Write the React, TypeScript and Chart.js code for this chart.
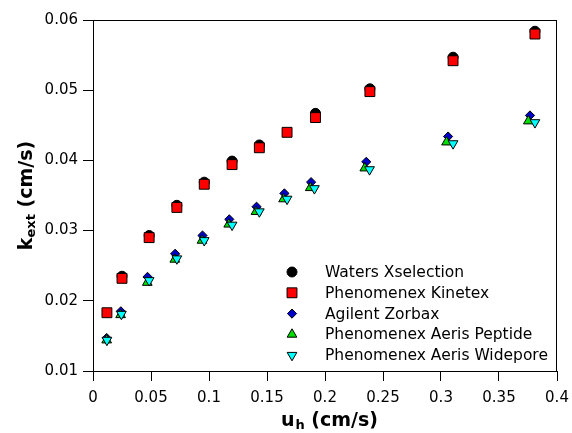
import React, { useEffect, useRef } from 'react';
import { Chart, registerables } from 'chart.js';

Chart.register(...registerables);

// ---- Data ----
const watersX = [0.025, 0.0484, 0.0723, 0.0959, 0.1199, 0.1434, 0.1918, 0.2387, 0.3104, 0.381];
const watersY = [0.0235, 0.0293, 0.0336, 0.0369, 0.0399, 0.0422, 0.0467, 0.0502, 0.0547, 0.0584];

const kinetexX = [0.012, 0.025, 0.0484, 0.0723, 0.0959, 0.1199, 0.1434, 0.1673, 0.1918, 0.2387, 0.3104, 0.381];
const kinetexY = [0.0183, 0.0232, 0.029, 0.0333, 0.0366, 0.0394, 0.0418, 0.044, 0.0461, 0.0498, 0.0542, 0.058];

const zorbaxX = [0.0118, 0.024, 0.047, 0.0708, 0.0944, 0.1175, 0.141, 0.165, 0.188, 0.2356, 0.3061, 0.3767];
const zorbaxY = [0.0147, 0.0185, 0.0234, 0.0267, 0.0293, 0.0316, 0.0334, 0.0353, 0.0369, 0.0398, 0.0434, 0.0464];

const peptideX = [0.0118, 0.0238, 0.0468, 0.0705, 0.094, 0.117, 0.1405, 0.1643, 0.1873, 0.2343, 0.3048, 0.3753];
const peptideY = [0.0144, 0.018, 0.0226, 0.0259, 0.0286, 0.0309, 0.0327, 0.0345, 0.0361, 0.0389, 0.0426, 0.0456];

const wideporeX = [0.012, 0.0245, 0.0484, 0.0723, 0.0959, 0.1199, 0.1434, 0.1673, 0.1909, 0.2384, 0.3104, 0.381];
const wideporeY = [0.0144, 0.0181, 0.0229, 0.026, 0.0286, 0.0308, 0.0327, 0.0345, 0.036, 0.0387, 0.0424, 0.0454];

const seriesNames = [
  'Waters Xselection',
  'Phenomenex Kinetex',
  'Agilent Zorbax',
  'Phenomenex Aeris Peptide',
  'Phenomenex Aeris Widepore',
];

const xTickValues = [0, 0.05, 0.1, 0.15, 0.2, 0.25, 0.3, 0.35, 0.4];
const xTickLabels = ['0', '0.05', '0.1', '0.15', '0.2', '0.25', '0.3', '0.35', '0.4'];
const yTickValues = [0.01, 0.02, 0.03, 0.04, 0.05, 0.06];
const yTickLabels = ['0.01', '0.02', '0.03', '0.04', '0.05', '0.06'];

const xTitleMain = 'u';
const xTitleSub = 'h';
const xTitleRest = ' (cm/s)';
const yTitleMain = 'k';
const yTitleSub = 'ext';
const yTitleRest = ' (cm/s)';

// ---- Styles ----
const FONT = '"DejaVu Sans", Verdana, sans-serif';
const markerStyles = [
  { style: 'circle', color: '#000000', radius: 5, rotation: 0 },
  { style: 'rect', color: '#ff0000', radius: 7, rotation: 0 },
  { style: 'rectRot', color: '#0000cc', radius: 4.6, rotation: 0 },
  { style: 'triangle', color: '#00dd00', radius: 5.6, rotation: 0 },
  { style: 'triangle', color: '#00ffff', radius: 5.6, rotation: 180 },
];

function toPoints(xs: number[], ys: number[]) {
  return xs.map((x, i) => ({ x, y: ys[i] }));
}

function drawMarker(ctx: CanvasRenderingContext2D, m: any, x: number, y: number) {
  const r = m.radius;
  ctx.beginPath();
  if (m.style === 'circle') {
    ctx.arc(x, y, r, 0, Math.PI * 2);
  } else if (m.style === 'rect') {
    const s = r * Math.SQRT1_2;
    ctx.rect(x - s, y - s, 2 * s, 2 * s);
  } else if (m.style === 'rectRot') {
    ctx.moveTo(x, y - r);
    ctx.lineTo(x + r, y);
    ctx.lineTo(x, y + r);
    ctx.lineTo(x - r, y);
    ctx.closePath();
  } else if (m.style === 'triangle') {
    let rad = (m.rotation * Math.PI) / 180;
    ctx.moveTo(x + Math.sin(rad) * r, y - Math.cos(rad) * r);
    rad += (2 * Math.PI) / 3;
    ctx.lineTo(x + Math.sin(rad) * r, y - Math.cos(rad) * r);
    rad += (2 * Math.PI) / 3;
    ctx.lineTo(x + Math.sin(rad) * r, y - Math.cos(rad) * r);
    ctx.closePath();
  }
  ctx.fillStyle = m.color;
  ctx.fill();
  ctx.lineWidth = 1;
  ctx.strokeStyle = '#000';
  ctx.stroke();
}

const decorPlugin = {
  id: 'decor',
  afterDraw(chart: any) {
    const ctx: CanvasRenderingContext2D = chart.ctx;
    const a = chart.chartArea;
    ctx.save();
    // frame
    ctx.strokeStyle = '#000';
    ctx.lineWidth = 1;
    ctx.strokeRect(Math.round(a.left) + 0.5, Math.round(a.top) + 0.5, Math.round(a.right - a.left) - 1, Math.round(a.bottom - a.top));

    // legend
    const lx = a.left + 199;
    const ly0 = a.top + 252;
    const step = 20.8;
    ctx.font = `15.5px ${FONT}`;
    ctx.textBaseline = 'middle';
    ctx.textAlign = 'left';
    seriesNames.forEach((name, i) => {
      const y = ly0 + i * step;
      drawMarker(ctx, markerStyles[i], lx, y);
      ctx.fillStyle = '#000';
      ctx.fillText(name, lx + 33, y + 1);
    });

    // axis titles
    const mainF = `bold 19px ${FONT}`;
    const subF = `bold 13px ${FONT}`;
    ctx.textBaseline = 'alphabetic';
    ctx.fillStyle = '#000';

    // x title
    ctx.font = mainF;
    const wU = ctx.measureText(xTitleMain).width;
    const wR = ctx.measureText(xTitleRest).width;
    ctx.font = subF;
    const wH = ctx.measureText(xTitleSub).width;
    const tot = wU + wH + wR;
    const x0 = (a.left + a.right) / 2 + 4 - tot / 2;
    const by = 426;
    ctx.font = mainF;
    ctx.fillText(xTitleMain, x0, by);
    ctx.font = subF;
    ctx.fillText(xTitleSub, x0 + wU + 1, by + 3);
    ctx.font = mainF;
    ctx.fillText(xTitleRest, x0 + wU + wH + 1, by);

    // y title
    ctx.save();
    ctx.translate(32, (a.top + a.bottom) / 2);
    ctx.rotate(-Math.PI / 2);
    ctx.font = mainF;
    const wK = ctx.measureText(yTitleMain).width;
    const wR2 = ctx.measureText(yTitleRest).width;
    ctx.font = subF;
    const wE = ctx.measureText(yTitleSub).width;
    const tot2 = wK + wE + wR2;
    const y0 = -tot2 / 2;
    ctx.font = mainF;
    ctx.fillText(yTitleMain, y0, 0);
    ctx.font = subF;
    ctx.fillText(yTitleSub, y0 + wK, 3);
    ctx.font = mainF;
    ctx.fillText(yTitleRest, y0 + wK + wE, 0);
    ctx.restore();

    ctx.restore();
  },
};

export default function App() {
  const ref = useRef<HTMLCanvasElement | null>(null);

  useEffect(() => {
    document.body.style.margin = '0';
    const canvas = ref.current;
    if (!canvas) return;
    const xs = [watersX, kinetexX, zorbaxX, peptideX, wideporeX];
    const ys = [watersY, kinetexY, zorbaxY, peptideY, wideporeY];
    const datasets = seriesNames.map((name, i) => ({
      label: name,
      data: toPoints(xs[i], ys[i]),
      pointStyle: markerStyles[i].style,
      pointRadius: markerStyles[i].radius,
      pointRotation: markerStyles[i].rotation,
      pointBackgroundColor: markerStyles[i].color,
      pointBorderColor: '#000',
      pointBorderWidth: 1,
      backgroundColor: markerStyles[i].color,
      borderColor: '#000',
      showLine: false,
      order: seriesNames.length - i,
    }));

    const tickFont = { family: FONT, size: 15 };

    const chart = new Chart(canvas, {
      type: 'scatter',
      data: { datasets } as any,
      plugins: [decorPlugin],
      options: {
        responsive: false,
        animation: false,
        devicePixelRatio: 1,
        layout: { padding: { top: 20, right: 15, left: 0, bottom: 0 } },
        plugins: {
          legend: { display: false },
          tooltip: { enabled: false },
          title: { display: false },
        },
        scales: {
          x: {
            type: 'linear',
            min: 0,
            max: 0.4,
            afterBuildTicks: (s: any) => {
              s.ticks = xTickValues.map((v) => ({ value: v }));
            },
            afterFit: (s: any) => {
              s.height = 62;
              s.paddingLeft = 0;
              s.paddingRight = 15;
            },
            ticks: {
              autoSkip: false,
              maxRotation: 0,
              color: '#000',
              font: tickFont,
              padding: 8,
              callback: (_v: any, i: number) => xTickLabels[i],
            },
            grid: {
              display: true,
              drawOnChartArea: false,
              drawTicks: true,
              tickLength: 10,
              color: '#000',
              lineWidth: 1,
            },
            border: { display: true, color: '#000', width: 1 },
            title: { display: false },
          },
          y: {
            type: 'linear',
            min: 0.01,
            max: 0.06,
            afterBuildTicks: (s: any) => {
              s.ticks = yTickValues.map((v) => ({ value: v }));
            },
            afterFit: (s: any) => {
              s.width = 93;
              s.paddingTop = 20;
              s.paddingBottom = 0;
            },
            ticks: {
              autoSkip: false,
              color: '#000',
              font: tickFont,
              padding: 5,
              callback: (_v: any, i: number) => yTickLabels[i],
            },
            grid: {
              display: true,
              drawOnChartArea: false,
              drawTicks: true,
              tickLength: 10,
              color: '#000',
              lineWidth: 1,
            },
            border: { display: true, color: '#000', width: 1 },
            title: { display: false },
          },
        },
      } as any,
    });
    return () => chart.destroy();
  }, []);

  return (
    <div style={{ width: 572, height: 433 }}>
      <canvas ref={ref} width={572} height={433} style={{ display: 'block', width: 572, height: 433 }} />
    </div>
  );
}
